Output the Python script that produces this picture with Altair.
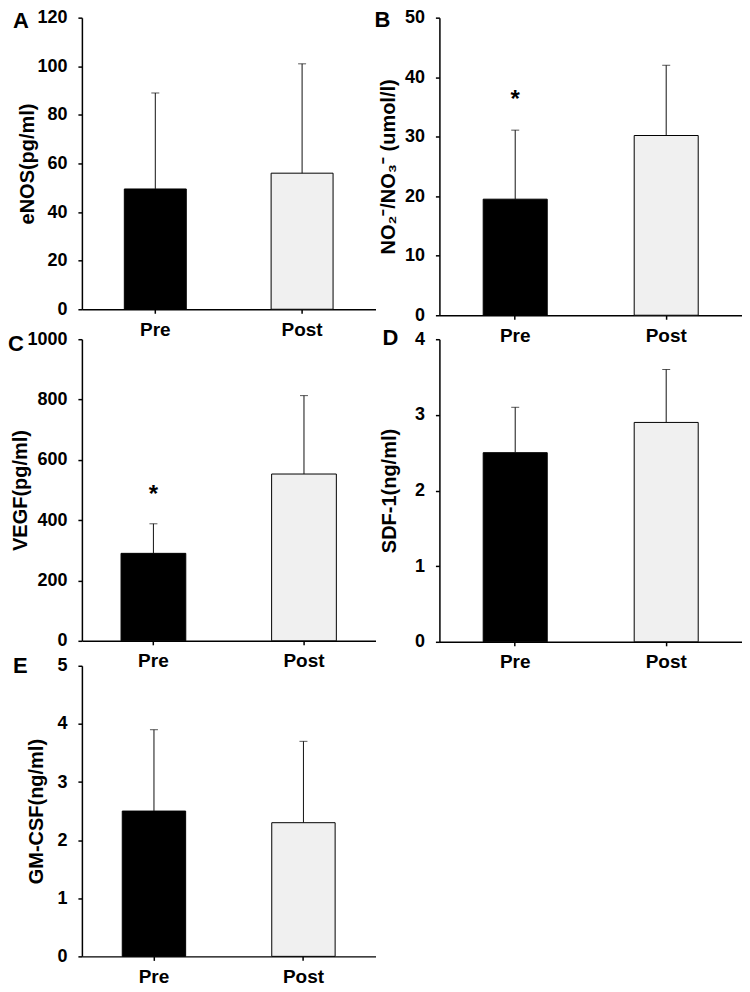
import altair as alt
import pandas as pd

FONT = "Liberation Sans"

categories = ["Pre", "Post"]

enos_mean = [49.5, 56.0]
enos_sd = [39.5, 45.0]

nox_mean = [19.5, 30.2]
nox_sd = [11.6, 11.8]
nox_star = [37.3]

vegf_mean = [290, 553]
vegf_sd = [98, 260]
vegf_star = [505]

sdf_mean = [2.5, 2.9]
sdf_sd = [0.6, 0.7]

gm_mean = [2.5, 2.3]
gm_sd = [1.4, 1.4]


def panel(letter, mean, sd, ymax, ystep, title, w, h, pi, po, letter_xy, title_x, star=None):
    df = pd.DataFrame({
        "group": categories,
        "mean": mean,
        "upper": [m + s for m, s in zip(mean, sd)],
    })
    xenc = alt.X(
        "group:N", sort=categories,
        scale=alt.Scale(domain=categories, paddingInner=pi, paddingOuter=po),
        axis=alt.Axis(title=None, labelAngle=0, labelFontSize=19, labelPadding=7,
                      bandPosition=0.5),
    )
    yscale = alt.Scale(domain=[0, ymax], nice=False, zero=True)
    yaxis = alt.Axis(
        title=title, values=list(range(0, ymax + 1, ystep)), format="d",
        titleX=title_x, titleY=h / 2, titleBaseline="middle", titleAngle=270,
        titleAlign="center",
    )
    bars = alt.Chart(df).mark_bar(stroke="black", strokeWidth=1).encode(
        x=xenc,
        y=alt.Y("mean:Q", scale=yscale, axis=yaxis),
        fill=alt.Fill("group:N", scale=alt.Scale(domain=categories, range=["#000000", "#f0f0f0"]),
                      legend=None),
    )
    rule = alt.Chart(df).mark_rule(color="#111111", strokeWidth=1).encode(
        x=xenc,
        y=alt.Y("mean:Q", scale=yscale, axis=yaxis),
        y2="upper:Q",
    )
    cap = alt.Chart(df).mark_tick(color="#111111", thickness=1, size=8).encode(
        x=xenc,
        y=alt.Y("upper:Q", scale=yscale, axis=yaxis),
    )
    lab = alt.Chart(pd.DataFrame({"t": [letter]})).mark_text(
        align="left", baseline="middle", fontSize=22, fontWeight="bold", font=FONT, color="black"
    ).encode(x=alt.value(letter_xy[0]), y=alt.value(letter_xy[1]), text="t:N")
    layers = [bars, rule, cap, lab]
    if star is not None:
        sdf = pd.DataFrame({"group": ["Pre"], "star": star, "t": ["*"]})
        st = alt.Chart(sdf).mark_text(
            baseline="alphabetic", dy=14, fontSize=24, fontWeight="bold", font=FONT, color="black"
        ).encode(x=xenc, y=alt.Y("star:Q", scale=yscale, axis=yaxis), text="t:N")
        layers.append(st)
    return alt.layer(*layers).properties(width=w, height=h)


A = panel("A", enos_mean, enos_sd, 120, 20, "eNOS(pg/ml)", 294, 292, 0.578, 0.289, (-69, 3), -54)
B = panel("B", nox_mean, nox_sd, 50, 10, "NO\u2082\u207b/NO\u2083\u207b (umol/l)", 303, 298, 0.576, 0.29,
          (-65, 2), -51, star=nox_star)
C = panel("C", vegf_mean, vegf_sd, 1000, 200, "VEGF(pg/ml)", 294, 302, 0.570, 0.26, (-74, 5), -61,
          star=vegf_star)
D = panel("D", sdf_mean, sdf_sd, 4, 1, "SDF-1(ng/ml)", 303, 303, 0.576, 0.29, (-57, -1), -50)
E = panel("E", gm_mean, gm_sd, 5, 1, "GM-CSF(ng/ml)", 294, 291, 0.576, 0.27, (-69, 0), -45)

chart = alt.concat(
    A, B, C, D, E, columns=2, bounds="flush",
    spacing=alt.RowColnumber(row=24, column=64),
).properties(
    padding=0
).configure_view(stroke=None).configure_axis(
    domainColor="black", domainWidth=1.5, tickColor="black", tickWidth=1.5, tickSize=4,
    labelFont=FONT, labelFontWeight="bold", labelFontSize=18, labelColor="black", labelPadding=11,
    titleFont=FONT, titleFontWeight="bold", titleFontSize=20, titleColor="black", grid=False,
)

chart.save("out.html", embed_options={"renderer": "svg", "actions": False})
